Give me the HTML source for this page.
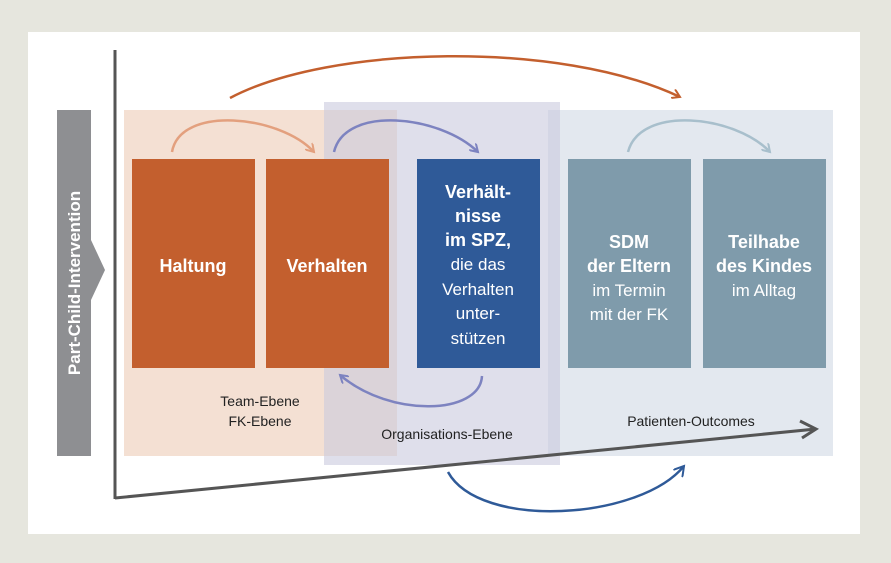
<!DOCTYPE html>
<html><head><meta charset="utf-8"><style>
body{margin:0;background:#e6e6de;}
svg{display:block}
text{font-family:"Liberation Sans",sans-serif;}
</style></head><body>
<svg width="891" height="563" viewBox="0 0 891 563">
<rect x="0" y="0" width="891" height="563" fill="#e6e6de"/>
<rect x="28" y="32" width="832" height="502" fill="#ffffff"/>
<rect x="124" y="110" width="273" height="346" fill="#f4e0d3"/>
<rect x="548" y="110" width="285" height="346" fill="#e3e8ef"/>
<rect x="324" y="102" width="236" height="363" fill="#c9c9de" opacity="0.6"/>
<rect x="132" y="159" width="123" height="209" fill="#c35f2e"/>
<rect x="266" y="159" width="123" height="209" fill="#c35f2e"/>
<rect x="417" y="159" width="123" height="209" fill="#2f5a98"/>
<rect x="568" y="159" width="123" height="209" fill="#7f9bab"/>
<rect x="703" y="159" width="123" height="209" fill="#7f9bab"/>
<rect x="57" y="110" width="34" height="346" fill="#8e8f92"/>
<polygon points="91,240 105,270 91,300" fill="#8e8f92"/>
<text transform="translate(80,283) rotate(-90)" text-anchor="middle" font-size="17" font-weight="bold" fill="#fff">Part-Child-Intervention</text>
<line x1="115" y1="50" x2="115" y2="499" stroke="#555" stroke-width="3"/>
<line x1="115" y1="498" x2="816" y2="429" stroke="#555" stroke-width="3"/>
<polyline points="800,421 816,429 802,438" fill="none" stroke="#555" stroke-width="3"/>
<defs>
<marker id="ao" markerWidth="10" markerHeight="10" refX="8" refY="5" orient="auto" markerUnits="userSpaceOnUse"><polyline points="0,0 8,5 0,10" fill="none" stroke="#c35f2e" stroke-width="2"/></marker>
<marker id="ap" markerWidth="10" markerHeight="10" refX="8" refY="5" orient="auto" markerUnits="userSpaceOnUse"><polyline points="0,0 8,5 0,10" fill="none" stroke="#e3a07e" stroke-width="2"/></marker>
<marker id="al" markerWidth="10" markerHeight="10" refX="8" refY="5" orient="auto" markerUnits="userSpaceOnUse"><polyline points="0,0 8,5 0,10" fill="none" stroke="#7d83c0" stroke-width="2"/></marker>
<marker id="ab" markerWidth="12" markerHeight="12" refX="10" refY="6" orient="auto" markerUnits="userSpaceOnUse"><polyline points="0,0 10,6 0,12" fill="none" stroke="#2f5a98" stroke-width="2"/></marker>
<marker id="ag" markerWidth="10" markerHeight="10" refX="8" refY="5" orient="auto" markerUnits="userSpaceOnUse"><polyline points="0,0 8,5 0,10" fill="none" stroke="#a8bfcc" stroke-width="2"/></marker>
</defs>
<path d="M230,98 C330,45 560,40 680,97" fill="none" stroke="#c35f2e" stroke-width="2.5" marker-end="url(#ao)"/>
<path d="M172,152 C180,105 280,115 314,152" fill="none" stroke="#e3a07e" stroke-width="2.5" marker-end="url(#ap)"/>
<path d="M334,152 C345,105 440,115 478,152" fill="none" stroke="#7d83c0" stroke-width="2.5" marker-end="url(#al)"/>
<path d="M628,152 C640,105 735,115 770,152" fill="none" stroke="#a8bfcc" stroke-width="2.5" marker-end="url(#ag)"/>
<path d="M482,376 C480,415 390,418 340,375" fill="none" stroke="#7d83c0" stroke-width="2.5" marker-end="url(#al)"/>
<path d="M448,472 C480,530 640,520 684,466" fill="none" stroke="#2f5a98" stroke-width="2.5" marker-end="url(#ab)"/>
<g font-weight="bold" font-size="18" fill="#fff" text-anchor="middle">
<text x="193" y="272">Haltung</text>
<text x="327" y="272">Verhalten</text>
<text x="478" y="198">Verhält-</text>
<text x="478" y="222">nisse</text>
<text x="478" y="246">im SPZ,</text>
<text x="629" y="248">SDM</text>
<text x="629" y="272">der Eltern</text>
<text x="764" y="248">Teilhabe</text>
<text x="764" y="272">des Kindes</text>
</g>
<g font-size="17" fill="#fff" text-anchor="middle">
<text x="478" y="270">die das</text>
<text x="478" y="295">Verhalten</text>
<text x="478" y="319">unter-</text>
<text x="478" y="344">stützen</text>
<text x="629" y="296">im Termin</text>
<text x="629" y="320">mit der FK</text>
<text x="764" y="296">im Alltag</text>
</g>
<g font-size="14" fill="#222" text-anchor="middle">
<text x="260" y="406">Team-Ebene</text>
<text x="260" y="426">FK-Ebene</text>
<text x="447" y="439">Organisations-Ebene</text>
<text x="691" y="426">Patienten-Outcomes</text>
</g>
</svg>
</body></html>
